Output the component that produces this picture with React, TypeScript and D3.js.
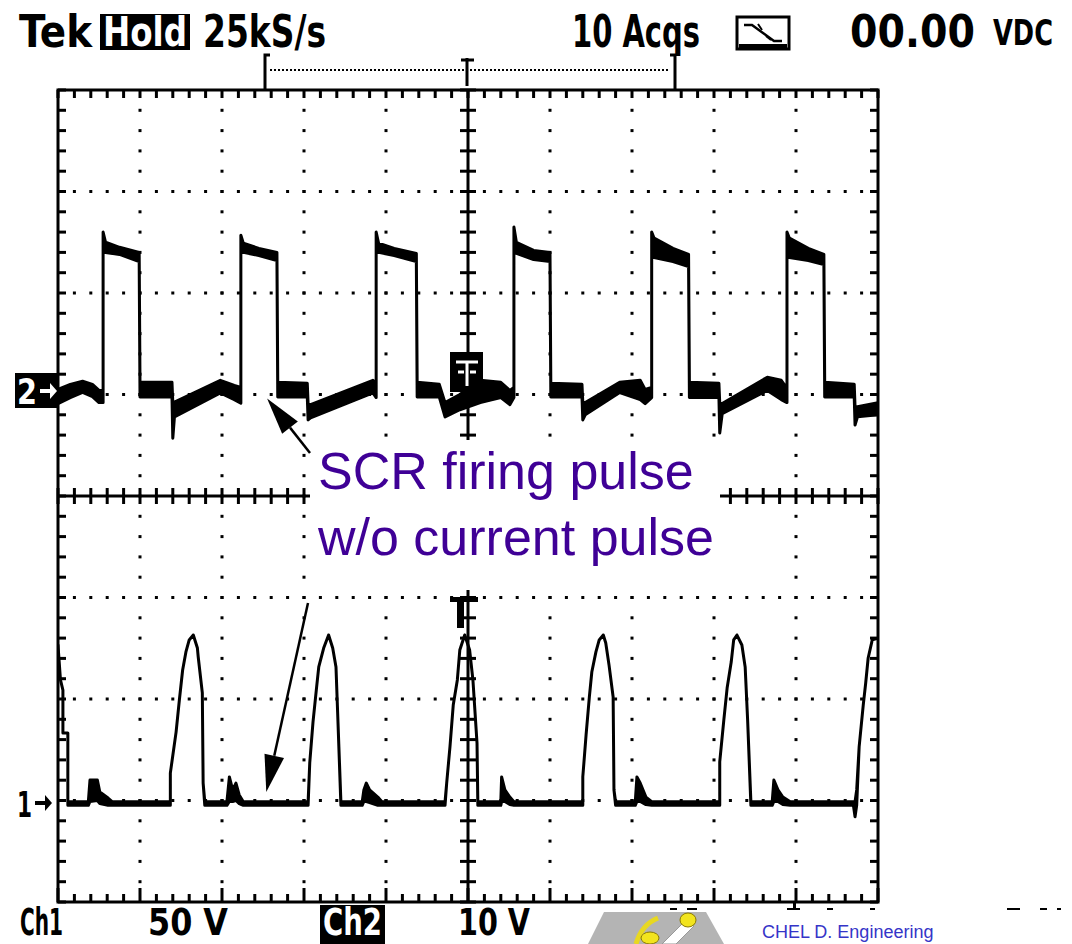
import React from "react";
import * as d3 from "d3";

// screen is 10 div across (10 ms/div) and 8 div high
const timeDomain: [number, number] = [0, 100];
const ch1Domain: [number, number] = [-50, 350]; // 50 V/div, ground 1 div above bottom
const ch2Domain: [number, number] = [-50, 30]; // 10 V/div, ground 3 div below top

// [time ms, low V, high V]  (10 acquisitions overlaid, so the trace is a band)
const ch2Samples: [number, number, number][] = [
  [0, -0.9, 0.5], [1.5, -0.3, 1.0], [3.0, 0.2, 1.3], [4.2, -0.2, 1.0], [5.0, -0.8, 0.4],
  [5.5, -0.8, 0.4], [5.5, 14.0, 16.0], [5.8, 14.0, 15.0], [7.5, 13.8, 14.5], [9.9, 13.1, 14.0],
  [10.0, -0.25, 1.2], [13.9, -0.25, 1.2], [14.0, -4.3, -0.8], [14.2, -2.2, -0.75],
  [19.8, 0.15, 1.4], [21.5, -0.5, 0.9], [22.3, -0.85, 0.7],
  [22.3, 14.0, 15.7], [22.6, 14.0, 14.9], [24.5, 13.7, 14.4], [26.7, 13.2, 14.0],
  [26.8, -0.25, 1.2], [30.4, -0.25, 1.1], [30.5, -2.5, -0.9], [30.8, -2.3, -1.0],
  [38.4, 0.15, 1.4], [38.8, -0.3, 1.0],
  [38.8, 14.0, 16.0], [39.1, 14.0, 14.9], [41.0, 13.7, 14.4], [43.7, 13.1, 13.9],
  [43.8, -0.25, 1.2], [46.5, -0.25, 1.0], [47.2, -2.2, -0.8], [49.0, -1.5, 0.0],
  [51.5, -0.8, 1.4], [54.0, -0.3, 1.2], [55.1, -1.0, 0.4], [55.6, -0.3, 0.7],
  [55.6, 14.0, 16.5], [55.9, 13.9, 15.0], [58.0, 13.3, 14.2], [60.0, 13.1, 14.0],
  [60.1, -0.25, 1.1], [63.9, -0.25, 1.0], [64.0, -2.5, -0.8], [64.3, -2.0, -0.8],
  [68.5, 0.2, 1.2], [71.0, -0.5, 1.4], [71.6, -0.9, 0.5], [72.4, -0.3, 0.7],
  [72.4, 13.5, 16.0], [72.7, 13.5, 15.4], [75.0, 13.1, 14.4], [76.9, 12.6, 13.8],
  [77.0, -0.3, 1.2], [80.6, -0.3, 1.1], [80.7, -3.8, -0.85], [81.0, -1.9, -0.9],
  [86.5, 0.4, 1.7], [88.2, -0.5, 1.4], [88.9, -0.8, 0.6],
  [88.9, 13.5, 16.0], [89.2, 13.5, 15.4], [91.5, 13.2, 14.4], [93.4, 12.8, 13.8],
  [93.5, -0.25, 1.2], [97.1, -0.25, 1.0], [97.2, -3.0, -1.2], [97.5, -2.2, -1.2], [100, -2.0, -0.8],
];

const ch1Samples: [number, number, number][] = [
  [0, 76.6, 76.6], [0.3, 59.4, 59.4], [0.6, 54.4, 54.4], [0.6, 33.3, 33.3], [1.2, 33.3, 33.3],
  [1.2, -2.4, -0.6], [3.7, -2.4, -0.6], [3.9, -0.5, 10.1], [4.8, 0, 10.1], [5.1, -1.5, 4.2],
  [6.1, -2.4, 1.2], [6.6, -2.4, -0.6], [13.7, -2.4, -0.6],
  [13.7, 13.5, 13.5], [14.4, 33.7, 33.7], [14.8, 49.5, 49.5], [15.2, 64.3, 64.3], [15.6, 73.2, 73.2],
  [16.0, 79.1, 79.1], [16.5, 81.5, 81.5], [17.0, 75.1, 75.1], [17.1, 70.7, 70.7], [17.6, 53.0, 53.0],
  [17.7, 8.6, 8.6], [17.9, -2.4, -0.6], [20.6, -2.4, -0.6], [20.9, -0.5, 11.6], [21.3, -0.5, 5.2],
  [21.7, 0, 8.6], [22.1, -1.5, 2.7], [22.6, -2.4, -0.6], [30.5, -2.4, -0.6],
  [30.7, 18.5, 18.5], [31.1, 38.7, 38.7], [31.5, 54.4, 54.4], [31.8, 65.8, 65.8], [32.4, 75.1, 75.1],
  [33.0, 81.5, 81.5], [33.5, 75.1, 75.1], [33.9, 65.8, 65.8], [34.1, 43.6, 43.6],
  [34.5, -2.4, -0.6], [37.1, -2.4, -0.6], [37.3, -0.5, 5.2], [37.6, -0.5, 8.6], [38.0, -1.0, 5.2],
  [39.0, -2.4, 1.7], [39.5, -2.4, -0.6], [47.2, -2.4, -0.6],
  [47.4, 8.6, 8.6], [47.8, 26.4, 26.4], [48.2, 47.0, 47.0], [48.7, 59.4, 59.4], [49.0, 74.1, 74.1],
  [49.6, 81.5, 81.5], [50.2, 74.1, 74.1], [50.6, 59.4, 59.4], [51.1, 28.3, 28.3],
  [51.2, -2.4, -0.6], [54.0, -2.4, -0.6], [54.1, -0.5, 11.6], [54.5, -0.5, 5.2], [55.1, -2.0, 1.7],
  [55.6, -2.4, -0.6], [64.0, -2.4, -0.6],
  [64.0, 11.6, 11.6], [64.4, 32.3, 32.3], [64.8, 51.0, 51.0], [65.1, 63.3, 63.3], [65.6, 73.2, 73.2],
  [66.0, 79.1, 79.1], [66.5, 81.5, 81.5], [66.8, 77.6, 77.6], [67.2, 66.7, 66.7], [67.7, 51.0, 51.0],
  [67.8, 5.2, 5.2], [68.0, -2.4, -0.6], [70.4, -2.4, -0.6], [70.6, -0.5, 11.6], [71.0, -0.5, 8.6],
  [71.7, -2.0, 1.7], [72.4, -2.4, -0.6], [80.7, -2.4, -0.6],
  [80.7, 19.0, 19.0], [81.2, 39.7, 39.7], [81.6, 55.4, 55.4], [82.1, 68.2, 68.2], [82.4, 79.1, 79.1],
  [82.8, 81.5, 81.5], [83.4, 76.6, 76.6], [83.8, 65.8, 65.8], [84.1, 39.7, 39.7],
  [84.5, -2.4, -0.6], [87.1, -2.4, -0.6], [87.3, -0.5, 10.1], [87.8, -0.5, 5.2], [88.4, -2.0, 1.7],
  [89.3, -2.4, -0.6], [97.0, -2.4, -0.6], [97.2, -8.0, -0.6], [97.4, -2.4, 5.2],
  [97.7, 26.4, 26.4], [98.2, 47.0, 47.0], [98.5, 57.9, 57.9], [98.8, 70.2, 70.2], [99.3, 79.1, 79.1],
  [100, 80.0, 80.0],
];

const headerText = ["Tek", "Hold", "25kS/s", "10 Acqs", "00.00", "VDC"];
const footerText = ["Ch1", "50 V", "Ch2", "10 V"];
const noteLines = ["SCR firing pulse", "w/o current pulse"];
// where the two note arrows point, [ms, V]
const noteTargetCh2: [number, number] = [25.5, -0.4];
const noteTargetCh1: [number, number] = [25.4, 4.2];

const W = 1072;
const H = 944;
const frame = { left: 58, right: 878, top: 90, bottom: 902 };
const scopeFont = "'Liberation Sans Narrow', 'DejaVu Sans Condensed', 'Arial Narrow', sans-serif";

function Arrow({ x1, y1, x2, y2 }: { x1: number; y1: number; x2: number; y2: number }) {
  const len = Math.hypot(x2 - x1, y2 - y1);
  const ux = (x2 - x1) / len;
  const uy = (y2 - y1) / len;
  const hl = 37;
  const hw = 10;
  const bx = x2 - ux * hl;
  const by = y2 - uy * hl;
  const pts = [
    [x2, y2],
    [bx - uy * hw, by + ux * hw],
    [bx + uy * hw, by - ux * hw],
  ];
  return (
    <g>
      <line x1={x1} y1={y1} x2={bx} y2={by} stroke="#000" strokeWidth={2.5} />
      <polygon points={pts.map((p) => p.join(",")).join(" ")} fill="#000" />
    </g>
  );
}

export default function App() {
  const x = d3.scaleLinear().domain(timeDomain).range([frame.left, frame.right]);
  const y1 = d3.scaleLinear().domain(ch1Domain).range([frame.bottom, frame.top]);
  const y2 = d3.scaleLinear().domain(ch2Domain).range([frame.bottom, frame.top]);
  // graticule in divisions
  const gx = d3.scaleLinear().domain([0, 10]).range([frame.left, frame.right]);
  const gy = d3.scaleLinear().domain([0, 8]).range([frame.top, frame.bottom]);
  const minorX = d3.range(51).map((i) => i / 5);
  const minorY = d3.range(41).map((i) => i / 5);

  const band = (ys: d3.ScaleLinear<number, number>) =>
    d3
      .area<[number, number, number]>()
      .x((d) => x(d[0]))
      .y0((d) => ys(d[1]))
      .y1((d) => ys(d[2]));

  const dots: JSX.Element[] = [];
  [1, 2, 3, 4, 6, 7, 8, 9].forEach((i) =>
    minorY.slice(1, -1).forEach((j) =>
      dots.push(<rect key={"v" + i + "-" + j} x={gx(i) - 1.5} y={gy(j) - 1.5} width={3} height={3} />)
    )
  );
  [1, 2, 3, 5, 6, 7].forEach((k) =>
    minorX.slice(1, -1).forEach((j) =>
      dots.push(<rect key={"h" + k + "-" + j} x={gx(j) - 1.5} y={gy(k) - 1.5} width={3} height={3} />)
    )
  );

  const cx = gx(5);
  const cy = gy(4);
  const tip2 = [x(noteTargetCh2[0]), y2(noteTargetCh2[1])];
  const tip1 = [x(noteTargetCh1[0]), y1(noteTargetCh1[1])];

  const txt = { fontFamily: scopeFont, fontWeight: 700 as const, fontSize: 44 };

  return (
    <div style={{ position: "absolute", left: 0, top: 0 }}>
      <svg width={W} height={H} style={{ display: "block", background: "#fff" }}>
        <defs>
          <clipPath id="screen">
            <rect x={frame.left} y={frame.top} width={frame.right - frame.left} height={frame.bottom - frame.top} />
          </clipPath>
        </defs>
        <rect width={W} height={H} fill="#fff" />

        {/* header */}
        <g {...txt} fill="#000">
          <text x={19} y={47} textLength={73} lengthAdjust="spacingAndGlyphs">{headerText[0]}</text>
          <rect x={100} y={14} width={90} height={36} fill="#000" />
          <text x={103} y={46} fill="#fff" fontSize={40} textLength={84} lengthAdjust="spacingAndGlyphs">{headerText[1]}</text>
          <text x={203} y={47} textLength={123} lengthAdjust="spacingAndGlyphs">{headerText[2]}</text>
          <text x={572} y={47} textLength={128} lengthAdjust="spacingAndGlyphs">{headerText[3]}</text>
          <text x={850} y={47} textLength={125} lengthAdjust="spacingAndGlyphs">{headerText[4]}</text>
          <text x={993} y={45} fontSize={36} textLength={60} lengthAdjust="spacingAndGlyphs">{headerText[5]}</text>
        </g>
        <g stroke="#000" fill="none" strokeWidth={3}>
          <rect x={737} y={17} width={52} height={32} />
          <path d="M744 25 h8 l22 16 h8" strokeWidth={2.5} />
          <path d="M758 24 l4 6 M766 36 l5 4" strokeWidth={2} />
        </g>
        <rect x={739} y={44} width={48} height={4} fill="#000" />

        {/* trigger position bar */}
        <g stroke="#000" fill="none">
          <path d="M270 55 h-5 v34 M670 55 h5 v34" strokeWidth={3} />
          <line x1={270} y1={70} x2={668} y2={70} strokeWidth={2} strokeDasharray="2 2" />
          <path d="M461 60 h13 M467 58 v28" strokeWidth={3} />
        </g>

        {/* graticule */}
        <g fill="#000">{dots}</g>
        <g stroke="#000" strokeWidth={3}>
          <rect x={frame.left} y={frame.top} width={frame.right - frame.left} height={frame.bottom - frame.top} fill="none" />
          {minorX.map((j) => (
            <g key={"tx" + j}>
              <line x1={gx(j)} x2={gx(j)} y1={frame.top} y2={frame.top + 8} />
              <line x1={gx(j)} x2={gx(j)} y1={frame.bottom} y2={frame.bottom - (Number.isInteger(j) ? 14 : 8)} />
              <line x1={gx(j)} x2={gx(j)} y1={cy - 8} y2={cy + 8} />
            </g>
          ))}
          {minorY.map((j) => (
            <g key={"ty" + j}>
              <line x1={frame.left} x2={frame.left + 8} y1={gy(j)} y2={gy(j)} />
              <line x1={frame.right} x2={frame.right - 8} y1={gy(j)} y2={gy(j)} />
              <line x1={cx - 8} x2={cx + 8} y1={gy(j)} y2={gy(j)} />
            </g>
          ))}
          <line x1={cx} x2={cx} y1={frame.top} y2={frame.bottom} />
          <line x1={frame.left} x2={frame.right} y1={cy} y2={cy} />
        </g>

        {/* annotation background */}
        <rect x={310} y={440} width={410} height={150} fill="#fff" />

        {/* traces */}
        <g clipPath="url(#screen)" fill="#000" stroke="#000" strokeWidth={3} strokeLinejoin="round">
          <path d={band(y2)(ch2Samples) ?? ""} />
          <path d={band(y1)(ch1Samples) ?? ""} />
        </g>

        {/* channel markers */}
        <rect x={15} y={373} width={43} height={35} fill="#000" />
        <text x={17} y={404} fill="#fff" {...txt} fontSize={36} textLength={20} lengthAdjust="spacingAndGlyphs">2</text>
        <path d="M40 389 h10 v-6 l7 8 l-7 8 v-6 h-10 z" fill="#fff" />
        <text x={17} y={817} fill="#000" {...txt} fontSize={36} textLength={15} lengthAdjust="spacingAndGlyphs">1</text>
        <path d="M35 801 h10 v-6 l7 8 l-7 8 v-6 h-10 z" fill="#000" />

        {/* trigger level markers at centre */}
        <rect x={450} y={352} width={33} height={40} fill="#000" />
        <path d="M456 362 h22 M467 362 v24 M458 372 h6 M470 372 h6" stroke="#fff" strokeWidth={3} />
        <rect x={450} y={597} width={28} height={5} fill="#000" />
        <rect x={457} y={600} width={7} height={28} fill="#000" />

        {/* note */}
        <g fill="#3f0096" fontFamily="'Liberation Sans', Arial, sans-serif" fontSize={52}>
          <text x={318} y={489}>{noteLines[0]}</text>
          <text x={318} y={555}>{noteLines[1]}</text>
        </g>
        <Arrow x1={310} y1={453} x2={tip2[0]} y2={tip2[1]} />
        <Arrow x1={308} y1={603} x2={tip1[0]} y2={tip1[1]} />

        {/* footer */}
        <g {...txt} fill="#000" fontSize={37}>
          <text x={20} y={935} textLength={43} lengthAdjust="spacingAndGlyphs">{footerText[0]}</text>
          <text x={148} y={935} textLength={80} lengthAdjust="spacingAndGlyphs">{footerText[1]}</text>
          <rect x={320} y={905} width={65} height={39} fill="#000" />
          <text x={323} y={935} fill="#fff" textLength={59} lengthAdjust="spacingAndGlyphs">{footerText[2]}</text>
          <text x={458} y={935} textLength={72} lengthAdjust="spacingAndGlyphs">{footerText[3]}</text>
        </g>
        <g fill="#000">
          {[[670, 7], [687, 10], [787, 13], [827, 6], [870, 5], [1007, 13], [1040, 7], [1057, 4]].map(([a, w]) => (
            <rect key={"d" + a} x={a} y={908} width={w} height={2} />
          ))}
          <rect x={793} y={902} width={3} height={8} />
        </g>

        {/* logo strip */}
        <polygon points="588,944 604,912 706,912 724,944" fill="#b4b4b4" />
        <path d="M636 944 C640 930 648 922 658 918" stroke="#e8d820" strokeWidth={5} fill="none" />
        <path d="M662 944 L684 922 L694 926 L676 944 Z" fill="#fff" stroke="#999" strokeWidth={1} />
        <ellipse cx={688} cy={920} rx={8} ry={7} fill="#f2e41e" stroke="#8a7a00" strokeWidth={1} />
        <ellipse cx={650} cy={938} rx={9} ry={6} fill="#f2e41e" stroke="#8a7a00" strokeWidth={1} />
        <text x={762} y={938} fill="#3535c8" fontFamily="'Liberation Sans', Arial, sans-serif" fontSize={18}>
          CHEL D. Engineering
        </text>
      </svg>
    </div>
  );
}
